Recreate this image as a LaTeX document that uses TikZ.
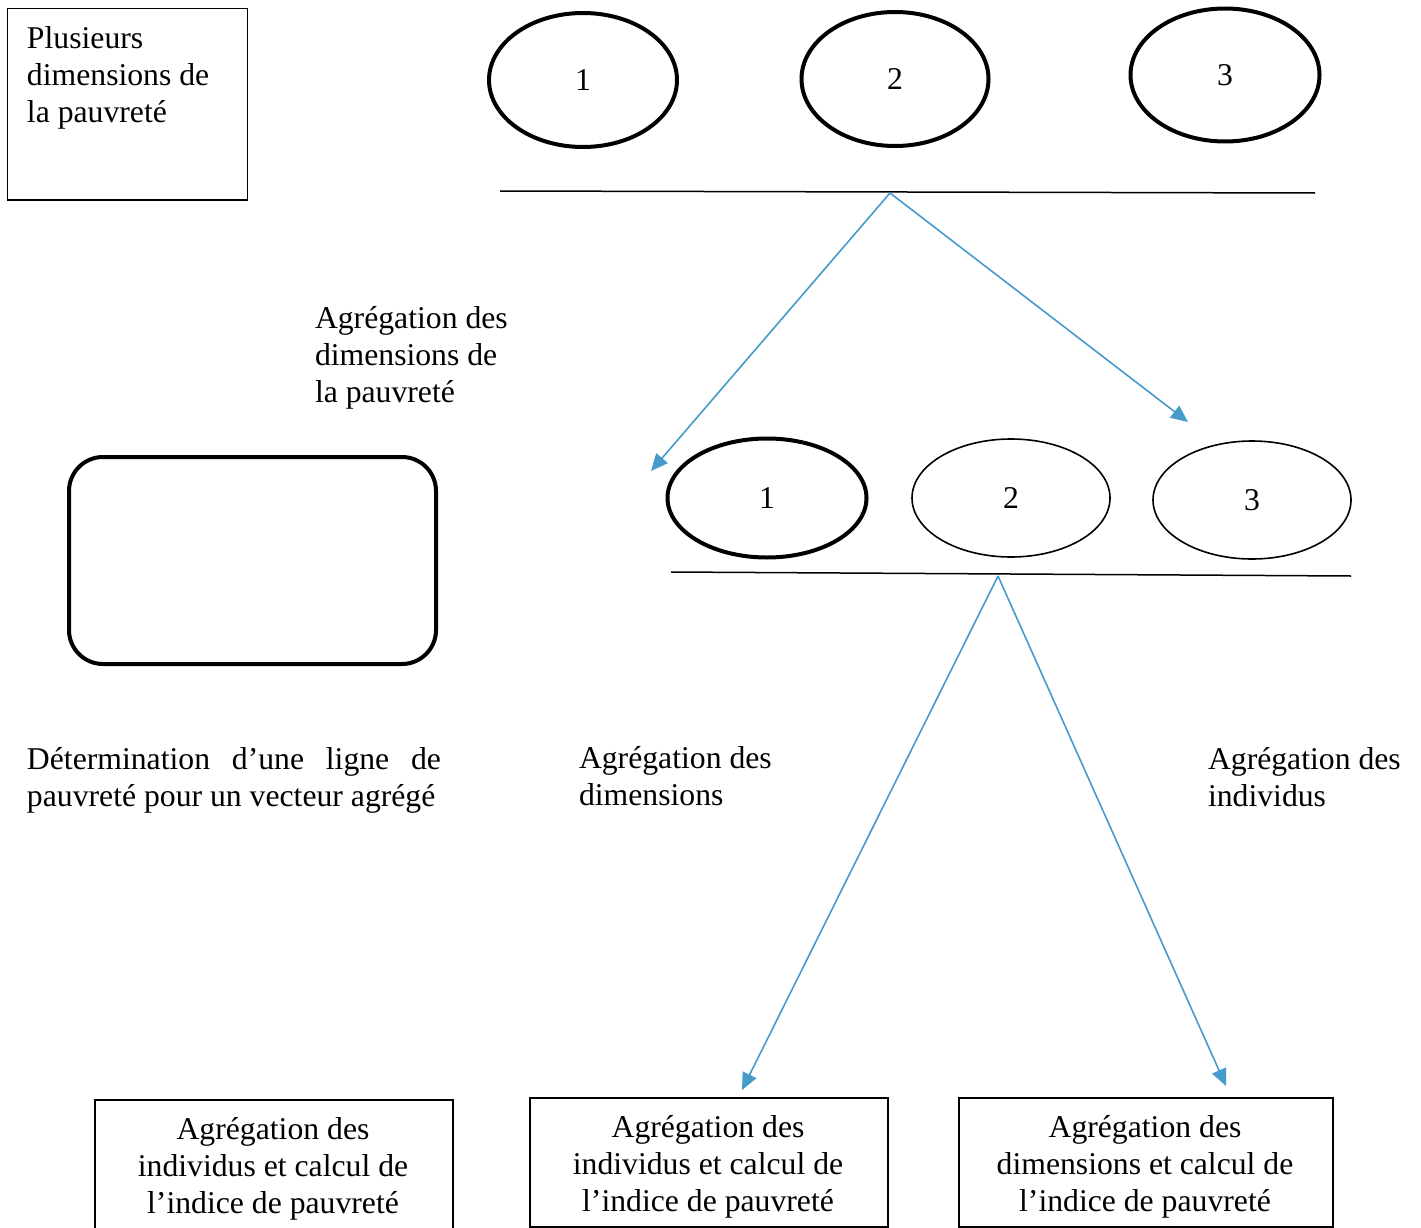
\documentclass[tikz,border=0pt]{standalone}
\usepackage{fontspec}
\setmainfont{Liberation Serif}
\usetikzlibrary{shapes.geometric,arrows.meta}
\definecolor{arrowblue}{RGB}{70,154,204}
\tikzset{
  txt/.style={font=\fontsize{31.7}{37}\selectfont, inner sep=0pt, outer sep=0pt},
  thickell/.style={draw, ellipse, line width=4pt, inner sep=0pt},
  thinell/.style={draw, ellipse, line width=1.6pt, inner sep=0pt},
  plainbox/.style={draw, rectangle, line width=1.5pt, inner sep=0pt},
  rule/.style={line width=1.5pt},
  flow/.style={draw=arrowblue, line width=1.6pt, -{Triangle[length=17pt,width=15pt]}},
}
\begin{document}
\begin{tikzpicture}[x=1pt,y=-1pt]
\useasboundingbox[fill=white] (0,0) rectangle (1421,1228);
% top-left box
\node[plainbox, minimum width=240pt, minimum height=191pt, anchor=north west] (dimbox) at (6.5,8) {};
\node[txt, anchor=north west, align=left] (dimtxt) at (27,23.1) {\strut Plusieurs\\dimensions de\\la pauvreté};
% top ellipses
\node[thickell, minimum width=188pt, minimum height=134pt, txt] (t1) at (583,80) {1};
\node[thickell, minimum width=187pt, minimum height=134pt, txt] (t2) at (895,79) {2};
\node[thickell, minimum width=189pt, minimum height=133pt, txt] (t3) at (1225,75) {3};
% top rule
\coordinate (tl) at (500,191);
\coordinate (tr) at (1315,193);
\draw[rule] (tl) -- (tr);
\coordinate (tsrc) at (890,193);
% label
\node[txt, anchor=north west, align=left] (agg1) at (315,302.1) {\strut Agrégation des\\dimensions de\\la pauvreté};
% rounded box
\node[draw, rectangle, rounded corners=34pt, line width=4pt, minimum width=367pt, minimum height=207pt, anchor=north west] (rbox) at (67,455) {};
% middle ellipses
\node[thickell, minimum width=199pt, minimum height=119pt, txt] (m1) at (767,498) {1};
\node[thinell, minimum width=198pt, minimum height=118pt, txt] (m2) at (1011,498) {2};
\node[thinell, minimum width=198pt, minimum height=118pt, txt] (m3) at (1252,500) {3};
% middle rule
\coordinate (ml) at (671,572);
\coordinate (mr) at (1351,576);
\draw[rule] (ml) -- (mr);
\coordinate (msrc) at (998,576);
% arrows
\coordinate (a1) at (651,471);
\coordinate (a2) at (1188,422);
\coordinate (a3) at (742,1090);
\coordinate (a4) at (1226,1086);
\draw[flow] (tsrc) -- (a1);
\draw[flow] (tsrc) -- (a2);
\draw[flow] (msrc) -- (a3);
\draw[flow] (msrc) -- (a4);
% texts
\node[txt, anchor=north west, text width=414pt, align=justify] (det) at (27,743.1) {\strut Détermination d’une ligne de pauvreté pour un vecteur agrégé};
\node[txt, anchor=north west, align=left] (agg2) at (579,742.1) {\strut Agrégation des\\dimensions};
\node[txt, anchor=north west, align=left] (agg3) at (1208,743.1) {\strut Agrégation des\\individus};
% bottom boxes
\node[plainbox, minimum width=358pt, minimum height=133pt, anchor=north west] (b1) at (94,1099) {};
\node[txt, align=center] (b1t) at (273,1169) {Agrégation des\\individus et calcul de\\l’indice de pauvreté};
\node[plainbox, minimum width=358pt, minimum height=129pt, anchor=north west] (b2) at (529,1097) {};
\node[txt, align=center] (b2t) at (708,1167) {Agrégation des\\individus et calcul de\\l’indice de pauvreté};
\node[plainbox, minimum width=374pt, minimum height=129pt, anchor=north west] (b3) at (958,1097) {};
\node[txt, align=center] (b3t) at (1145,1167) {Agrégation des\\dimensions et calcul de\\l’indice de pauvreté};
\end{tikzpicture}
\end{document}
